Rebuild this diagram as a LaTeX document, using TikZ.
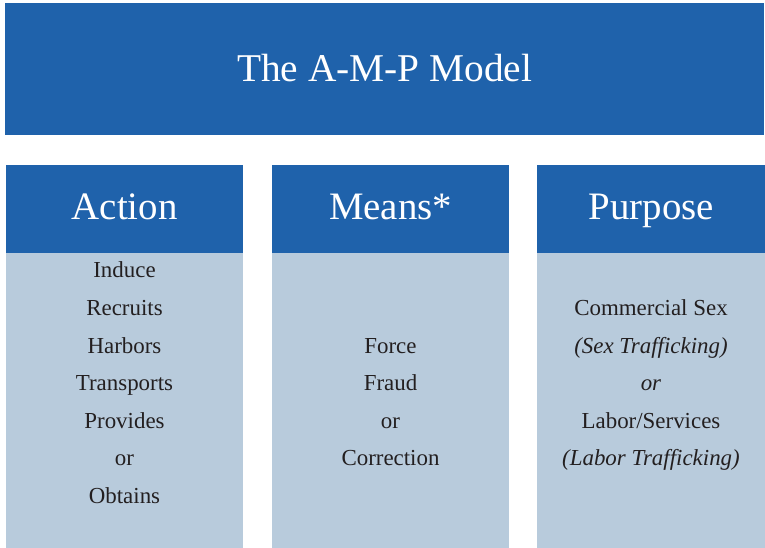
\documentclass[tikz,border=0pt]{standalone}
\usepackage{fontspec}
\setmainfont{Liberation Serif}
\usepackage{xcolor}
\definecolor{azul}{RGB}{31, 98, 171}
\definecolor{cinza}{RGB}{184, 203, 220}
\definecolor{tinta}{RGB}{35, 31, 32}
\usetikzlibrary{positioning}

\tikzset{
  faixa/.style={fill=azul, text=white, inner sep=0pt, anchor=north west},
  cabecalho/.style={faixa, minimum width=237bp, minimum height=88bp, text height=20bp, text depth=0pt, font=\fontsize{39}{39}\selectfont},
  corpo/.style={fill=cinza, inner sep=0pt, minimum width=237bp, minimum height=296bp},
  item/.style={text=tinta, anchor=base, font=\fontsize{23}{23}\selectfont}
}

\begin{document}
\begin{tikzpicture}[x=1bp, y=-1bp]
	\useasboundingbox (0,0) rectangle (765,548);
	
	% titulo
	\node [faixa, minimum width=759bp, minimum height=132bp, text height=24bp, text depth=0pt, font=\fontsize{39.5}{40}\selectfont] (titulo) at (5,3) {The A-M-P Model};
	
	% cabecalhos das colunas
	\node [cabecalho] (acao) at (6,165) {Action};
	\node [cabecalho] (meios) at (272,165) {Means*};
	\node [cabecalho, minimum width=228bp] (proposito) at (537,165) {Purpose};
	
	\node [corpo, below=-0.5bp of acao] (acao-corpo) {};
	\node [corpo, below=-0.5bp of meios] (meios-corpo) {};
	\node [corpo, minimum width=228bp, below=-0.5bp of proposito] (proposito-corpo) {};
	
	% listas
	\foreach \rotulo [count=\i] in {Induce, Recruits, Harbors, Transports, Provides, or, Obtains}
		\node [item] (acao-\i) at (124.5, 240.5+37.5*\i) {\rotulo};
	
	\foreach \rotulo [count=\i from 3] in {Force, Fraud, or, Correction}
		\node [item] (meios-\i) at (390.5, 240.5+37.5*\i) {\rotulo};
	
	\foreach \rotulo [count=\i from 2] in {Commercial Sex, \textit{(Sex Trafficking)}, \textit{or}, Labor/Services, \textit{(Labor Trafficking)}}
		\node [item] (proposito-\i) at (651, 240.5+37.5*\i) {\rotulo};
\end{tikzpicture}
\end{document}
